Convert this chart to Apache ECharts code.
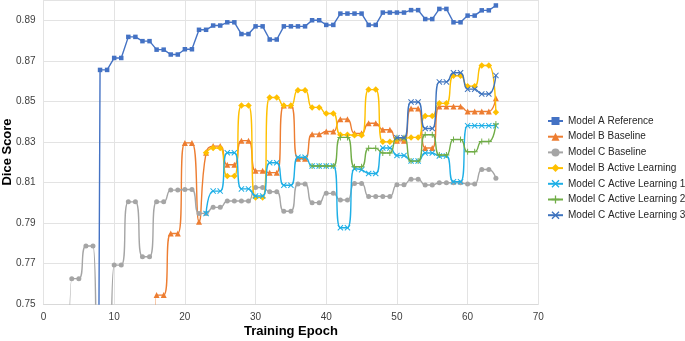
<!DOCTYPE html>
<html>
<head>
<meta charset="utf-8">
<script src="https://cdn.jsdelivr.net/npm/echarts@6/dist/echarts.min.js"></script>
<style>
html,body{margin:0;padding:0;background:#fff;}
#chart{width:685px;height:341px;}
</style>
</head>
<body>
<div id="chart"></div>
<script>
// Series names
var seriesNames = ['Model A Reference','Model B Baseline','Model C Baseline','Model B Active Learning',
  'Model C Active Learning 1','Model C Active Learning 2','Model C Active Learning 3'];

// First epoch of each series (values listed epoch by epoch after it; low values fall below the axis)
var startA = 7;
var modelA = [0.10,0.8655,0.8655,0.8714,0.8714,0.8818,0.8818,0.8797,0.8797,0.8755,0.8755,0.8731,0.8731,
  0.8757,0.8757,0.8853,0.8853,0.8874,0.8874,0.889,0.889,0.8832,0.8832,0.887,0.887,0.8805,0.8805,
  0.887,0.887,0.887,0.887,0.89,0.89,0.8877,0.8877,0.8933,0.8933,0.8933,0.8933,0.8877,0.8877,
  0.8938,0.8938,0.8938,0.8938,0.895,0.895,0.8906,0.8906,0.8956,0.8956,0.889,0.889,0.8923,0.8923,
  0.8949,0.8949,0.8973];

var startBBase = 15;
var modelBBase = [0.30,0.7544,0.7544,0.7848,0.7848,0.8295,0.8295,0.7906,0.8246,0.8279,0.8279,0.8187,0.8187,
  0.8306,0.8306,0.8157,0.8157,0.8148,0.8148,0.8479,0.8479,0.8217,0.8217,0.8338,0.8338,0.8351,0.8351,
  0.8412,0.8412,0.8342,0.8342,0.8392,0.8392,0.836,0.836,0.8305,0.8305,0.8465,0.8465,0.827,0.827,
  0.8475,0.8475,0.8475,0.8475,0.845,0.845,0.845,0.845,0.8515];

var startCBase = 3;
var modelCBase = [0.30,0.7625,0.7625,0.7786,0.7786,0.50,0.50,0.7692,0.7692,0.8004,0.8004,0.7733,0.7733,
  0.8004,0.8004,0.8062,0.8062,0.8065,0.8065,0.7947,0.7947,0.7977,0.7977,0.8008,0.8008,0.8008,0.8008,
  0.8075,0.8075,0.8054,0.8054,0.7958,0.7958,0.8092,0.8092,0.80,0.80,0.8046,0.8046,0.8013,0.8013,
  0.8095,0.8095,0.8031,0.8031,0.8031,0.8031,0.8088,0.8088,0.8116,0.8116,0.8087,0.8087,
  0.8098,0.8098,0.8098,0.8098,0.8092,0.8092,0.8164,0.8164,0.8121];

var startBAL = 23;
var modelBAL = [0.8246,0.827,0.827,0.8131,0.8131,0.8479,0.8479,0.8026,0.8026,0.8519,0.8519,0.8479,0.8479,
  0.8555,0.8555,0.847,0.847,0.844,0.844,0.8335,0.8335,0.8333,0.8333,0.8558,0.8558,0.83,0.83,
  0.831,0.8315,0.8322,0.8322,0.8428,0.8428,0.849,0.849,0.8626,0.8626,0.8575,0.8575,0.8677,0.8677,0.8446];

var startCAL1 = 23;
var modelCAL1 = [0.7947,0.8057,0.8057,0.8246,0.8246,0.8068,0.8068,0.8033,0.8033,0.8197,0.8197,0.8086,0.8086,
  0.8224,0.8224,0.8181,0.8181,0.8181,0.8181,0.7876,0.7876,0.8167,0.8162,0.8144,0.8144,0.827,0.827,
  0.8233,0.8233,0.8206,0.8206,0.8245,0.8245,0.823,0.823,0.8103,0.8103,0.838,0.838,0.838,0.838,0.838];

var startCAL2 = 38;
var modelCAL2 = [0.8181,0.8181,0.8181,0.8181,0.8322,0.8322,0.8177,0.8177,0.8268,0.8268,0.8245,0.8245,
  0.832,0.832,0.8205,0.8205,0.8335,0.8335,0.8235,0.8235,0.8312,0.8312,0.8251,0.8251,0.8302,0.8302,0.8388];

var startCAL3 = 50;
var modelCAL3 = [0.832,0.832,0.8497,0.8497,0.8366,0.8366,0.8596,0.8596,0.8641,0.8641,0.856,0.856,
  0.8536,0.8536,0.8628];

// Axis ticks
var xTicks = {min:0, max:70, interval:10};
var yTicks = {min:0.75, max:0.90, interval:0.02};

function pairs(start, vals){
  var out = [];
  for (var i = 0; i < vals.length; i++) out.push([start + i, vals[i]]);
  return out;
}

var xSym = 'path://M0,1.2L1.2,0L5,3.8L8.8,0L10,1.2L6.2,5L10,8.8L8.8,10L5,6.2L1.2,10L0,8.8L3.8,5Z';
var plusSym = 'path://M4.2,0H5.8V4.2H10V5.8H5.8V10H4.2V5.8H0V4.2H4.2Z';

var colors = ['#4472C4','#ED7D31','#A5A5A5','#FFC000','#1EAFE6','#70AD47','#3F74BE'];
var symbols = ['rect','triangle','circle','diamond',xSym,plusSym,xSym];
var sizes = [4.5,6,5,6.5,6,6,6];
var datasets = [pairs(startA,modelA),pairs(startBBase,modelBBase),pairs(startCBase,modelCBase),
  pairs(startBAL,modelBAL),pairs(startCAL1,modelCAL1),pairs(startCAL2,modelCAL2),pairs(startCAL3,modelCAL3)];

var series = seriesNames.map(function(n, i){
  return {
    name: n,
    type: 'line',
    data: datasets[i],
    smooth: i === 0 ? false : 0.5,
    symbol: symbols[i],
    symbolSize: sizes[i],
    showSymbol: true,
    clip: true,
    lineStyle: {width: 1.4, color: colors[i]},
    itemStyle: {color: colors[i], borderWidth: 0},
    z: 2 + i,
    animation: false
  };
});

var chart = echarts.init(document.getElementById('chart'), null, {renderer:'canvas'});
chart.setOption({
  animation: false,
  color: colors,
  textStyle: {fontFamily: 'Liberation Sans, Arial, sans-serif'},
  grid: {left: 43.5, right: 146.7, top: 0, bottom: 37, containLabel: false, outerBoundsMode: 'none'},
  legend: {
    orient: 'vertical',
    left: 547,
    top: 116,
    padding: 0,
    itemWidth: 15,
    itemHeight: 10,
    itemGap: 5.7,
    textStyle: {fontSize: 10, color: '#262626', fontFamily: 'Liberation Sans, Arial, sans-serif', overflow: 'none'},
    data: seriesNames
  },
  xAxis: {
    type: 'value',
    min: xTicks.min, max: xTicks.max, interval: xTicks.interval,
    name: 'Training Epoch',
    nameLocation: 'middle',
    nameGap: 21,
    nameMoveOverlap: false,
    nameTextStyle: {fontSize: 13, fontWeight: 'bold', color: '#000'},
    axisLine: {show: true, lineStyle: {color: '#D9D9D9'}},
    axisTick: {show: false},
    axisLabel: {fontSize: 10, color: '#404040', margin: 8},
    splitLine: {show: true, lineStyle: {color: '#E3E3E3'}}
  },
  yAxis: {
    type: 'value',
    min: yTicks.min, max: yTicks.max, interval: yTicks.interval,
    name: 'Dice Score',
    nameLocation: 'middle',
    nameGap: 30,
    nameMoveOverlap: false,
    nameTextStyle: {fontSize: 13, fontWeight: 'bold', color: '#000'},
    axisLine: {show: false},
    axisTick: {show: false},
    axisLabel: {fontSize: 10, color: '#404040', margin: 8, showMaxLabel: false,
      formatter: function(v){ return v.toFixed(2); }},
    splitLine: {show: true, lineStyle: {color: '#E3E3E3'}}
  },
  series: series
});
</script>
</body>
</html>
